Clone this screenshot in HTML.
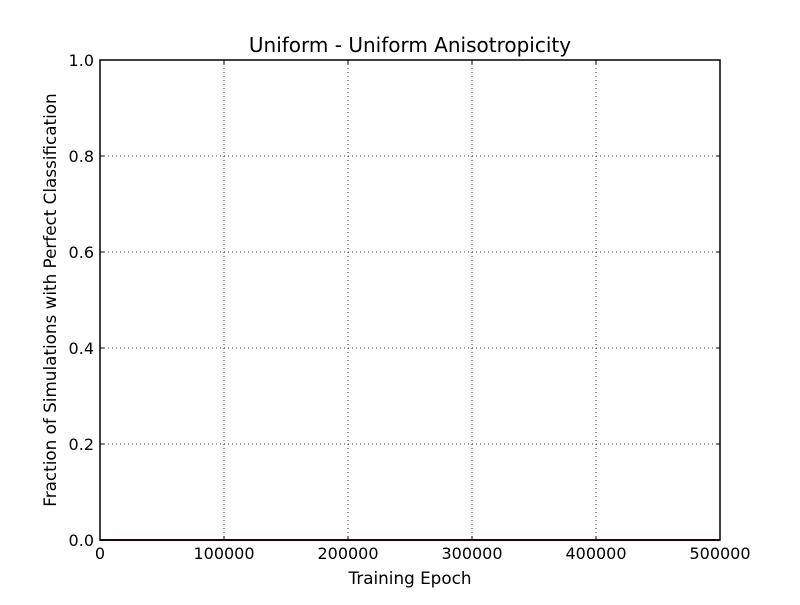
<!DOCTYPE html>
<html><head><meta charset="utf-8"><style>
body{margin:0;background:#fff;}
svg text{font-family:"DejaVu Sans","Liberation Sans",sans-serif;fill:#000;}
</style></head><body>
<svg id="chart" width="800" height="600" xmlns="http://www.w3.org/2000/svg">
<rect width="800" height="600" fill="#fff"/>
<g id="grid"></g><g id="series"></g><g id="axes"></g>
</svg>
<script>
const epochs = [0, 50000, 100000, 150000, 200000, 250000, 300000, 350000, 400000, 450000, 500000];
const fractions = [0, 0, 0, 0, 0, 0, 0, 0, 0, 0, 0];
const xTicks = [0, 100000, 200000, 300000, 400000, 500000];
const yTicks = [0.0, 0.2, 0.4, 0.6, 0.8, 1.0];
const L=100,R=720,T=60,B=540;
const xs=v=>L+(v-0)/(500000-0)*(R-L);
const ys=v=>B-(v-0)/(1-0)*(B-T);
const NS='http://www.w3.org/2000/svg';
function mk(tag,attrs,parent){const e=document.createElementNS(NS,tag);for(const k in attrs)e.setAttribute(k,attrs[k]);parent.appendChild(e);return e;}
const grid=document.getElementById('grid'),axes=document.getElementById('axes'),series=document.getElementById('series');
xTicks.forEach(v=>{const x=xs(v);
 const g=mk('line',{x1:x,x2:x,y1:T,y2:B,stroke:'#000','stroke-width':0.8,'stroke-dasharray':'1,3'},grid);
 
 
 mk('line',{x1:x,x2:x,y1:B,y2:B-4,stroke:'#000'},axes);
 mk('line',{x1:x,x2:x,y1:T,y2:T+4,stroke:'#000'},axes);
 const t=mk('text',{x:x,y:B+19,'text-anchor':'middle','font-size':16},axes);t.textContent=v;
 
 
});
yTicks.forEach(v=>{const y=ys(v);
 const g=mk('line',{x1:L,x2:R,y1:y,y2:y,stroke:'#000','stroke-width':0.8,'stroke-dasharray':'1,3'},grid);
 
 
 mk('line',{x1:L,x2:L+4,y1:y,y2:y,stroke:'#000'},axes);
 mk('line',{x1:R,x2:R-4,y1:y,y2:y,stroke:'#000'},axes);
 const t=mk('text',{x:L-6,y:y+6,'text-anchor':'end','font-size':16},axes);t.textContent=v.toFixed(1);
 
 
});
const pts=epochs.map((e,i)=>xs(e)+','+ys(fractions[i])).join(' ');
const pl=mk('polyline',{points:pts,fill:'none',stroke:'#b00000','stroke-width':2},series);


const fr=mk('rect',{x:L,y:T,width:R-L,height:B-T,fill:'none',stroke:'#000','stroke-width':1.5},axes);


const ti=mk('text',{x:410,y:52,'text-anchor':'middle','font-size':20},axes);ti.textContent='Uniform - Uniform Anisotropicity';


const xl=mk('text',{x:410,y:584,'text-anchor':'middle','font-size':16.8},axes);xl.textContent='Training Epoch';


const yl=mk('text',{x:0,y:0,'text-anchor':'middle','font-size':16.8,transform:'translate(56,300) rotate(-90)'},axes);yl.textContent='Fraction of Simulations with Perfect Classification';


</script>
</body></html>
